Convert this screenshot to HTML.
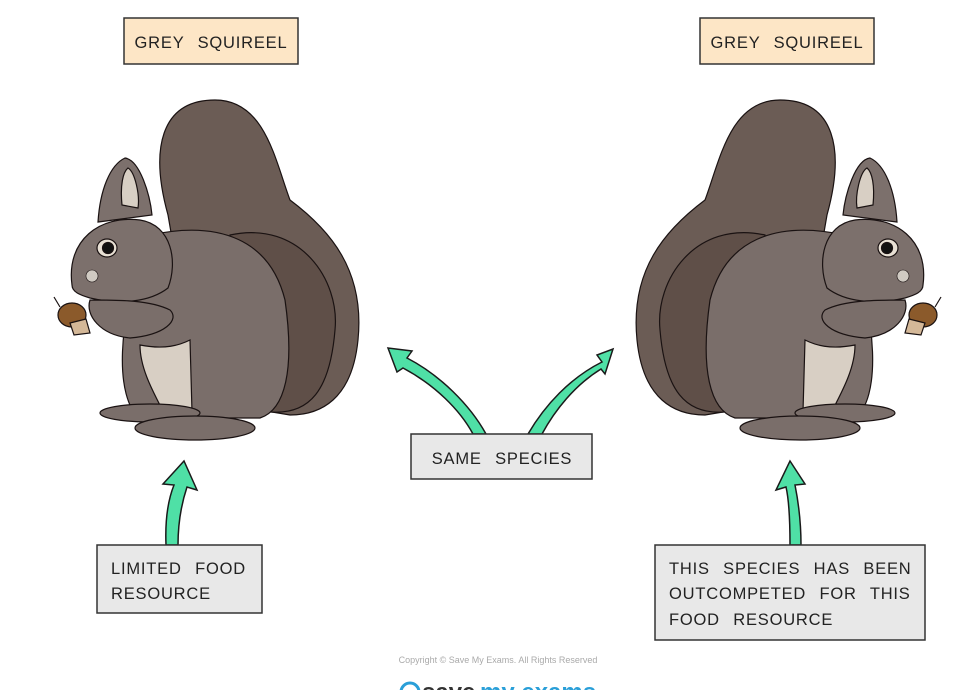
<!DOCTYPE html>
<html><head><meta charset="utf-8"><style>
body{margin:0;background:#fff;width:978px;height:690px;overflow:hidden;font-family:"Liberation Sans",sans-serif}
</style></head><body>
<svg width="978" height="690" viewBox="0 0 978 690" xmlns="http://www.w3.org/2000/svg">
<defs>
<g id="sq" stroke="#1a1212" stroke-width="1.2">
  <path d="M168,215 C150,150 160,100 215,100 C265,100 275,160 290,200 C330,230 365,270 358,340 C352,400 320,415 290,415 L200,400 Z" fill="#6b5c55"/>
  <path d="M230,235 C300,220 340,280 335,330 C330,390 310,415 270,412 C240,410 225,330 230,235 Z" fill="#5f4f48"/>
  <path d="M150,235 C220,220 270,240 285,300 C295,370 285,410 260,418 L140,418 C115,400 115,320 150,235 Z" fill="#7a6e6a"/>
  <path d="M140,345 C165,350 180,345 190,340 L192,412 L165,415 C155,395 140,370 140,345 Z" fill="#d8cfc4"/>
  <ellipse cx="150" cy="413" rx="50" ry="9" fill="#7a6e6a"/>
  <ellipse cx="195" cy="428" rx="60" ry="12" fill="#7a6e6a"/>
  <path d="M98,222 C100,190 110,165 125,158 C140,160 150,195 152,215 Z" fill="#7c706c"/>
  <path d="M122,205 C120,185 123,172 128,168 C135,172 140,195 138,208 Z" fill="#d8cfc4"/>
  <path d="M72,285 C66,240 100,215 140,220 C172,225 178,262 168,288 C150,302 120,305 90,298 C80,295 72,292 72,285 Z" fill="#7c706c"/>
  <path d="M90,300 C120,300 150,300 170,310 C180,320 165,335 130,338 C100,335 85,315 90,300 Z" fill="#7a6e6a"/>
  <ellipse cx="107" cy="248" rx="10" ry="9" fill="#e8e0d4"/>
  <circle cx="108" cy="248" r="5.5" fill="#111"/>
  <circle cx="92" cy="276" r="6" fill="#d0cac2" stroke-width="0.6"/>
  <g transform="translate(72,315)">
    <path d="M-12,-8 L-18,-18" fill="none"/>
    <ellipse cx="0" cy="0" rx="14" ry="12" fill="#8b5a2b"/>
    <path d="M-2,8 L14,4 L18,18 L2,20 Z" fill="#d4b898"/>
  </g>
</g>
</defs>
<g font-size="16.5" fill="#222" letter-spacing="0.8" word-spacing="8">
<rect x="124" y="18" width="174" height="46" fill="#fde6c6" stroke="#333" stroke-width="1.5"/>
<text x="211" y="48" text-anchor="middle">GREY SQUIREEL</text>
<rect x="700" y="18" width="174" height="46" fill="#fde6c6" stroke="#333" stroke-width="1.5"/>
<text x="787" y="48" text-anchor="middle">GREY SQUIREEL</text>
</g>

<use href="#sq"/>
<use href="#sq" transform="translate(995,0) scale(-1,1)"/>

<g fill="#4fe0a6" stroke="#1a1a1a" stroke-width="1.5" stroke-linejoin="miter">
  <path d="M166,545 C165,520 168,500 174,485 L163,484 L184,461 L197,490 L187,487 C181,505 178,525 178,545 Z"/>
  <path d="M790,545 C790,520 789,500 786,487 L776,490 L790,461 L805,484 L795,485 C799,505 801,525 801,545 Z"/>
  <path d="M473,434 C460,410 435,385 403,368 L397,372 L388,348 L412,351 L407,358 C440,375 470,405 486,434 Z"/>
  <path d="M528,434 C545,405 570,378 602,362 L597,355 L613,349 L605,374 L601,369 C575,385 555,410 542,434 Z"/>
</g>

<g font-size="16.5" fill="#222" letter-spacing="0.8" word-spacing="8">
<rect x="411" y="434" width="181" height="45" fill="#e8e8e8" stroke="#333" stroke-width="1.5"/>
<text x="502" y="464" text-anchor="middle">SAME SPECIES</text>

<rect x="97" y="545" width="165" height="68" fill="#e8e8e8" stroke="#333" stroke-width="1.5"/>
<text x="111" y="574">LIMITED FOOD</text>
<text x="111" y="599">RESOURCE</text>

<rect x="655" y="545" width="270" height="95" fill="#e8e8e8" stroke="#333" stroke-width="1.5"/>
<text x="669" y="574">THIS SPECIES HAS BEEN</text>
<text x="669" y="599">OUTCOMPETED FOR THIS</text>
<text x="669" y="625">FOOD RESOURCE</text>
</g>

<text x="498" y="663" text-anchor="middle" font-size="9" fill="#aaa">Copyright © Save My Exams. All Rights Reserved</text>
<circle cx="410" cy="692" r="9" fill="none" stroke="#2a9fd8" stroke-width="3"/>
<text x="422" y="700" font-size="24" font-weight="bold" fill="#333">save</text>
<text x="480" y="700" font-size="24" font-weight="bold" fill="#2a9fd8">my exams</text>
</svg>
</body></html>
